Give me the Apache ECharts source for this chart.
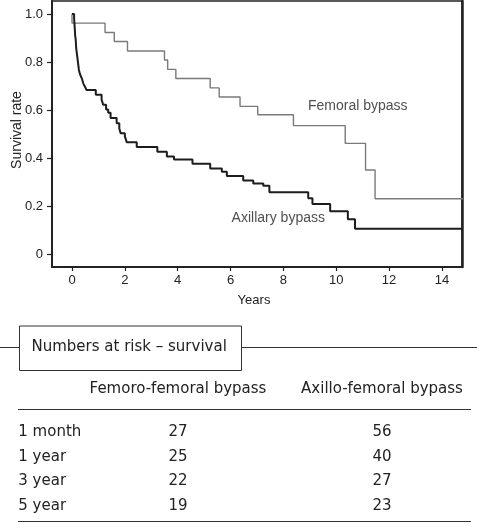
<!DOCTYPE html>
<html>
<head>
<meta charset="utf-8">
<script src="https://cdn.jsdelivr.net/npm/echarts@6/dist/echarts.min.js"></script>
<style>
html,body{margin:0;padding:0;background:#fff;}
#chart{width:477px;height:523px;}
</style>
</head>
<body>
<div id="chart"></div>
<script>
// ---- Survival curves (Kaplan-Meier steps: time in years, survival after step) ----
const femoralTime = [0, 0, 1.25, 1.60, 2.10, 3.50, 3.62, 3.93, 5.23, 5.57, 6.36, 7.03, 8.38, 10.34, 11.11, 11.47, 14.8];
const femoralSurv = [1, 0.962, 0.923, 0.885, 0.846, 0.808, 0.769, 0.731, 0.692, 0.654, 0.615, 0.58, 0.535, 0.461, 0.35, 0.23, 0.23];

const axillaryTime = [0, 0.08, 0.09, 0.10, 0.11, 0.12, 0.14, 0.15, 0.16, 0.18, 0.20, 0.22, 0.24, 0.26, 0.30, 0.37, 0.43, 0.50, 0.55, 0.90, 1.12, 1.18, 1.29, 1.37, 1.46, 1.69, 1.79, 1.84, 2.00, 2.07, 2.45, 3.23, 3.59, 3.86, 4.56, 5.23, 5.67, 5.86, 6.48, 6.86, 7.24, 7.47, 8.94, 9.10, 9.77, 10.44, 10.71, 14.8];
const axillarySurv = [1, 0.982, 0.964, 0.946, 0.929, 0.911, 0.893, 0.875, 0.857, 0.839, 0.821, 0.804, 0.786, 0.768, 0.75, 0.732, 0.71, 0.695, 0.683, 0.664, 0.643, 0.622, 0.602, 0.589, 0.567, 0.545, 0.523, 0.503, 0.49, 0.466, 0.446, 0.426, 0.406, 0.394, 0.376, 0.356, 0.343, 0.325, 0.306, 0.294, 0.284, 0.257, 0.232, 0.208, 0.178, 0.145, 0.105, 0.105];

const xTickValues = [0, 2, 4, 6, 8, 10, 12, 14];
const yTickValues = [0, 0.2, 0.4, 0.6, 0.8, 1.0];
const xAxisName = 'Years';
const yAxisName = 'Survival rate';

// curve labels and where they sit (data coords)
const curveLabels = ['Femoral bypass', 'Axillary bypass'];
const curveLabelAt = [[8.93, 0.614], [6.04, 0.149]];

// ---- Numbers at risk table ----
const riskTitle = 'Numbers at risk \u2013 survival';
const riskGroups = ['Femoro-femoral bypass', 'Axillo-femoral bypass'];
const riskTimes = ['1 month', '1 year', '3 year', '5 year'];
const riskFemoral = [27, 25, 22, 19];
const riskAxillary = [56, 40, 27, 23];

const zip = (a, b) => a.map((v, i) => [v, b[i]]);

const chart = echarts.init(document.getElementById('chart'), null, {renderer: 'canvas'});

const axisFont = {fontFamily: 'Liberation Sans, Arial, sans-serif', fontSize: 13, color: '#222'};
const tblFont = 'DejaVu Sans, sans-serif';
const tblColor = '#222';

// table graphics
const graphics = [];
const lineY = 347.5;
graphics.push({type: 'line', shape: {x1: 0, y1: lineY, x2: 19.5, y2: lineY}, style: {stroke: '#333', lineWidth: 1}});
graphics.push({type: 'rect', shape: {x: 19.5, y: 326, width: 222, height: 44.5}, style: {fill: 'none', stroke: '#333', lineWidth: 1}});
graphics.push({type: 'line', shape: {x1: 241.5, y1: lineY, x2: 477, y2: lineY}, style: {stroke: '#333', lineWidth: 1}});
graphics.push({type: 'text', x: 31.5, y: lineY, style: {text: riskTitle, font: '15px ' + tblFont, fill: tblColor, verticalAlign: 'middle', align: 'left'}});
const colX = [178, 382];
riskGroups.forEach((g, i) => {
  graphics.push({type: 'text', x: colX[i], y: 389, style: {text: g, font: '15px ' + tblFont, fill: tblColor, verticalAlign: 'middle', align: 'center'}});
});
graphics.push({type: 'line', shape: {x1: 18, y1: 409.5, x2: 471, y2: 409.5}, style: {stroke: '#333', lineWidth: 1}});
riskTimes.forEach((t, i) => {
  const y = 432.3 + i * 24.5;
  graphics.push({type: 'text', x: 18.3, y: y, style: {text: t, font: '15px ' + tblFont, fill: tblColor, verticalAlign: 'middle', align: 'left'}});
  graphics.push({type: 'text', x: colX[0], y: y, style: {text: String(riskFemoral[i]), font: '15px ' + tblFont, fill: tblColor, verticalAlign: 'middle', align: 'center'}});
  graphics.push({type: 'text', x: colX[1], y: y, style: {text: String(riskAxillary[i]), font: '15px ' + tblFont, fill: tblColor, verticalAlign: 'middle', align: 'center'}});
});
graphics.push({type: 'line', shape: {x1: 18, y1: 521.5, x2: 471, y2: 521.5}, style: {stroke: '#333', lineWidth: 1}});

const option = {
  animation: false,
  backgroundColor: '#fff',
  grid: {left: 52, top: 1, width: 410, height: 266, show: true, borderColor: '#222', borderWidth: 1.5, backgroundColor: 'transparent', containLabel: false, outerBoundsMode: 'none'},
  xAxis: {
    type: 'value', min: -0.757, max: 14.76,
    name: xAxisName, nameLocation: 'middle', nameGap: 27, nameMoveOverlap: false,
    nameTextStyle: Object.assign({}, axisFont, {padding: [0, 6, 0, 0]}),
    axisLine: {show: true, onZero: false, lineStyle: {color: '#222', width: 2}},
    axisTick: {show: true, inside: false, length: 4, customValues: xTickValues, lineStyle: {color: '#222', width: 1.2}},
    axisLabel: Object.assign({}, axisFont, {customValues: xTickValues, margin: 7}),
    splitLine: {show: false}
  },
  yAxis: [{
    type: 'value', min: -0.054, max: 1.054,
    name: yAxisName, nameLocation: 'middle', nameGap: 28, nameMoveOverlap: false,
    nameTextStyle: Object.assign({}, axisFont, {fontSize: 14, padding: [0, 0, 0, 8]}),
    axisLine: {show: true, onZero: false, lineStyle: {color: '#222', width: 2}},
    axisTick: {show: true, inside: false, length: 5, customValues: yTickValues, lineStyle: {color: '#222', width: 1.2}},
    axisLabel: Object.assign({}, axisFont, {customValues: yTickValues, margin: 9, formatter: v => v === 0 ? '0' : v.toFixed(1)}),
    splitLine: {show: false}
  }, {
    type: 'value', position: 'right', min: -0.054, max: 1.054,
    axisLine: {show: true, onZero: false, lineStyle: {color: '#222', width: 2.5}},
    axisTick: {show: false}, axisLabel: {show: false}, splitLine: {show: false}
  }],
  series: [
    {
      type: 'line', name: curveLabels[0], step: 'end', showSymbol: false, clip: true,
      data: zip(femoralTime, femoralSurv),
      lineStyle: {color: '#7a7a7a', width: 1.4}
    },
    {
      type: 'line', name: curveLabels[1], step: 'end', showSymbol: false, clip: true,
      data: zip(axillaryTime, axillarySurv),
      lineStyle: {color: '#1c1c1c', width: 2}
    },
    {
      type: 'scatter', symbolSize: 0, silent: true,
      data: curveLabels.map((n, i) => ({name: n, value: curveLabelAt[i]})),
      label: {show: true, position: 'right', distance: 0, formatter: p => p.name,
        fontFamily: 'Liberation Sans, Arial, sans-serif', fontSize: 14, color: '#222'}
    }
  ],
  graphic: graphics
};
chart.setOption(option);
</script>
</body>
</html>
